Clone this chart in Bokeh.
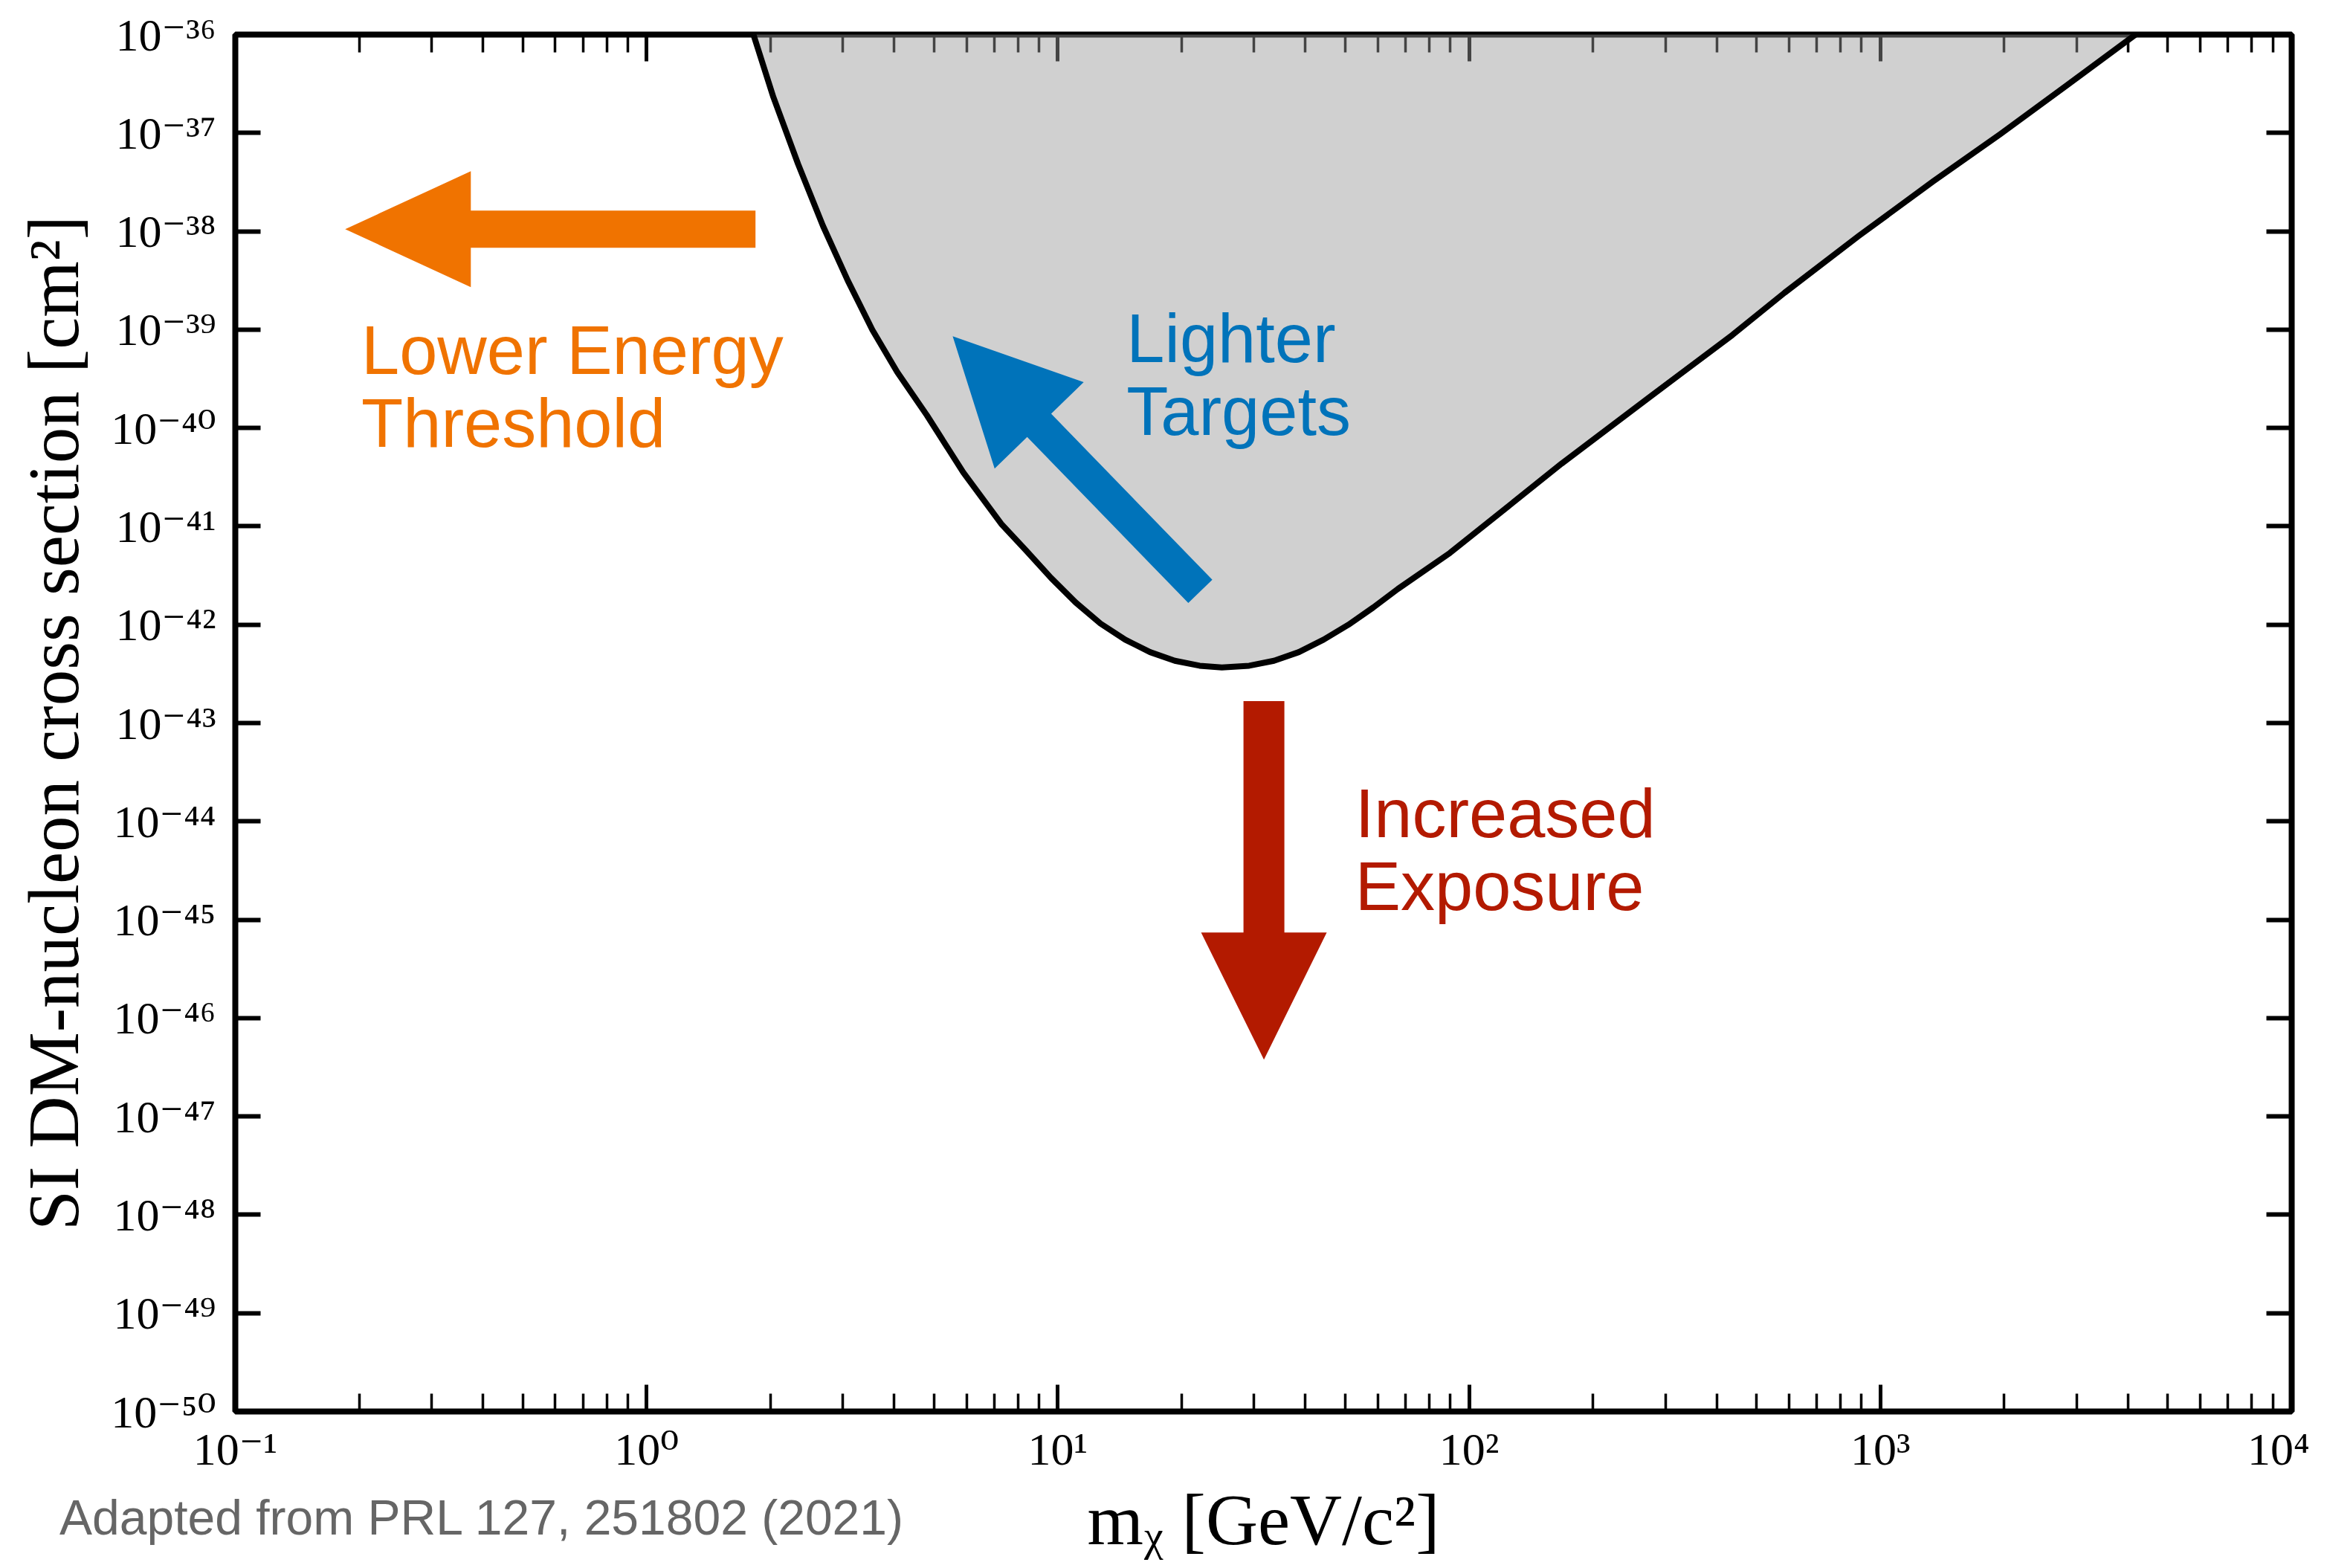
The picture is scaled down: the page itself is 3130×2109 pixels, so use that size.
import numpy as np
from bokeh.plotting import figure
from bokeh.layouts import column
from bokeh.models import FixedTicker, LogAxis, CustomJSTickFormatter, ColumnDataSource, Div
from bokeh.core.properties import value
from bokeh.embed import file_html
from bokeh.resources import INLINE

# ---------------- data ----------------
# exclusion-limit curve: WIMP mass [GeV/c^2] and SI cross section [cm^2]
mass_gev = [1.819, 2.033, 2.335, 2.684, 3.083, 3.540, 4.069, 4.806, 5.888, 7.280,
            8.372, 9.617, 11.05, 12.70, 14.58, 16.76, 19.25, 22.12, 25.05, 29.19,
            33.53, 38.54, 44.26, 50.83, 58.44, 67.11, 89.82, 167.7, 272.6, 436.9,
            584.8, 886.7, 1344.8, 1955.6, 2844.5, 4172.0]
sigma_cm2 = [1.0e-36, 2.318e-37, 4.838e-38, 1.136e-38, 3.166e-39, 9.93e-40, 3.702e-40,
             1.342e-40, 3.532e-41, 1.063e-41, 5.680e-42, 2.999e-42, 1.680e-42, 1.026e-42,
             7.036e-43, 5.262e-43, 4.299e-43, 3.825e-43, 3.676e-43, 3.825e-43, 4.299e-43,
             5.262e-43, 7.036e-43, 9.966e-43, 1.495e-42, 2.310e-42, 5.362e-42, 4.329e-41,
             2.013e-40, 8.837e-40, 2.371e-39, 8.993e-39, 3.226e-38, 9.71e-38, 3.062e-37,
             1.0e-36]

# axis ticks
x_major_ticks = [0.1, 1, 10, 100, 1000, 10000]
x_minor_ticks = [m * d for d in [0.1, 1, 10, 100, 1000] for m in [2, 3, 4, 5, 6, 7, 8, 9]]
y_major_ticks = [1e-50, 1e-49, 1e-48, 1e-47, 1e-46, 1e-45, 1e-44, 1e-43,
                 1e-42, 1e-41, 1e-40, 1e-39, 1e-38, 1e-37, 1e-36]

# annotation arrows (tail -> tip, data coordinates)
arrow_tail_mass = [1.84, 22.2, 31.7]
arrow_tail_sigma = [1.05e-38, 2.18e-42, 1.67e-43]
arrow_tip_mass = [0.185, 5.55, 31.7]
arrow_tip_sigma = [1.05e-38, 8.55e-40, 3.78e-47]

# annotation texts (first-line baseline anchor, data coordinates)
label_line1 = ["Lower Energy", "Lighter", "Increased"]
label_line2 = ["Threshold", "Targets", "Exposure"]
label_mass = [0.2025, 14.69, 52.8]
label_sigma = [3.594e-40, 4.79e-40, 7.07e-45]

footnote_text = "Adapted from PRL 127, 251802 (2021)"

x_label = "m\u1d6a [GeV/c\u00b2]"
y_label = "SI DM-nucleon cross section [cm\u00b2]"

# ---------------- styling ----------------
ORANGE = "#F07300"
BLUE = "#0073BA"
RED = "#B31A00"
X_RANGE = (0.1, 1e4)
Y_RANGE = (1e-50, 1e-36)
FW, FH = 2766, 1852
SERIF = "Liberation Serif"
TICK_FONT = "Liberation Serif, DejaVu Serif"
SANS = "Liberation Sans"

p = figure(x_axis_type="log", y_axis_type="log", x_range=X_RANGE, y_range=Y_RANGE,
           frame_width=FW, frame_height=FH,
           min_border_left=316, min_border_right=24, min_border_top=46, min_border_bottom=202,
           output_backend="svg", toolbar_location=None)
p.background_fill_color = "white"
p.border_fill_color = "white"
p.grid.visible = False
p.outline_line_color = "black"
p.outline_line_width = 8

bottom_axis = p.below[0]
left_axis = p.left[0]
top_axis = LogAxis()
right_axis = LogAxis()
p.add_layout(top_axis, "above")
p.add_layout(right_axis, "right")

sup_code = """
const e = Math.round(Math.log10(tick));
const sup = {"-": "\u207b", "0": "\u2070", "1": "\u00b9", "2": "\u00b2", "3": "\u00b3",
             "4": "\u2074", "5": "\u2075", "6": "\u2076", "7": "\u2077", "8": "\u2078", "9": "\u2079"};
return "10" + String(e).split("").map(c => sup[c]).join("");
"""

x_axes = [bottom_axis, top_axis]
y_axes = [left_axis, right_axis]
for ax in x_axes:
    ax.ticker = FixedTicker(ticks=x_major_ticks, minor_ticks=x_minor_ticks)
    ax.major_tick_in = 36
    ax.minor_tick_in = 24
    ax.major_tick_line_width = 5
    ax.minor_tick_line_width = 3.5
for ax in y_axes:
    ax.ticker = FixedTicker(ticks=y_major_ticks, minor_ticks=[])
    ax.major_tick_in = 34
    ax.minor_tick_in = 0
    ax.major_tick_line_width = 6
for ax in x_axes + y_axes:
    ax.major_tick_out = 0
    ax.minor_tick_out = 0
    ax.axis_line_color = None
    ax.major_tick_line_color = "black"
    ax.minor_tick_line_color = "black"
    ax.major_label_text_color = "black"
    ax.axis_label_text_font = SERIF
    ax.axis_label_text_font_style = "normal"
    ax.axis_label_text_font_size = "97px"
    ax.axis_label_text_color = "black"
for ax in [top_axis, right_axis]:
    ax.formatter = CustomJSTickFormatter(code="return '';")
    ax.major_label_text_font_size = "1px"
    ax.major_label_standoff = 0
for ax in [bottom_axis, left_axis]:
    ax.formatter = CustomJSTickFormatter(code=sup_code)
    ax.major_label_text_font = TICK_FONT
    ax.major_label_text_font_size = "62px"

bottom_axis.axis_label = x_label
bottom_axis.major_label_standoff = 16
bottom_axis.axis_label_standoff = 5
bottom_axis.axis_label_text_line_height = 1.0
left_axis.axis_label = y_label
left_axis.major_label_standoff = 26
left_axis.axis_label_standoff = 20

# ---------------- excluded region ----------------
src = ColumnDataSource(dict(m=mass_gev, s=sigma_cm2, top=[Y_RANGE[1]] * len(mass_gev)))
p.varea(x="m", y1="s", y2="top", source=src, fill_color="#979797", fill_alpha=0.45,
        level="annotation")
p.line(x="m", y="s", source=src, line_color="black", line_width=8, line_join="round",
       level="annotation")

# ---------------- pixel <-> data helpers (frame-relative, y up) ----------------
LX0, LX1 = np.log10(X_RANGE)
LY0, LY1 = np.log10(Y_RANGE)


def to_px(x, y):
    return np.array([(np.log10(x) - LX0) / (LX1 - LX0) * FW,
                     (np.log10(y) - LY0) / (LY1 - LY0) * FH])


def to_data(pt):
    return (10 ** (LX0 + pt[0] / FW * (LX1 - LX0)),
            10 ** (LY0 + pt[1] / FH * (LY1 - LY0)))


def shift_y(y, dpx):
    return y * 10 ** (dpx * (LY1 - LY0) / FH)


# ---------------- arrows ----------------
def arrow_poly(tail, tip, shaft_w, head_len, head_w):
    t = to_px(*tail)
    h = to_px(*tip)
    d = h - t
    u = d / np.hypot(*d)
    n = np.array([-u[1], u[0]])
    base = h - u * head_len
    pts = [t + n * shaft_w / 2, base + n * shaft_w / 2, base + n * head_w / 2, h,
           base - n * head_w / 2, base - n * shaft_w / 2, t - n * shaft_w / 2]
    xs, ys = zip(*[to_data(pt) for pt in pts])
    return list(xs), list(ys)


arrow_styles = [(ORANGE, 50, 169, 156), (BLUE, 45, 167, 167), (RED, 55, 171, 169)]
for i, (col, sw, hl, hw) in enumerate(arrow_styles):
    xs, ys = arrow_poly((arrow_tail_mass[i], arrow_tail_sigma[i]),
                        (arrow_tip_mass[i], arrow_tip_sigma[i]), sw, hl, hw)
    p.patch(xs, ys, fill_color=col, line_color=None, level="annotation")

# ---------------- texts ----------------
label_colors = [ORANGE, BLUE, RED]
line_gap = 98
baseline_fix = 31   # renderer places "alphabetic" text lower than the true baseline
first = [shift_y(s, baseline_fix) for s in label_sigma]
tsrc = ColumnDataSource(dict(
    x=label_mass + label_mass,
    y=first + [shift_y(s, -line_gap) for s in first],
    t=label_line1 + label_line2,
    c=label_colors + label_colors))
p.text(x="x", y="y", text="t", text_color="c", source=tsrc,
       text_font=value(SANS), text_font_size=value("92px"),
       text_align="left", text_baseline="alphabetic", level="annotation")

# footnote sits in the lower-left margin, beside the x-axis title
note = Div(text=footnote_text, width=1300, height=70, margin=(-91, 0, 0, 80),
           styles={"font-family": SANS, "font-size": "66px", "color": "#666666",
                   "line-height": "65px", "white-space": "nowrap"})

layout = column(p, note, spacing=0)
open("out.html", "w").write(file_html(layout, INLINE))
